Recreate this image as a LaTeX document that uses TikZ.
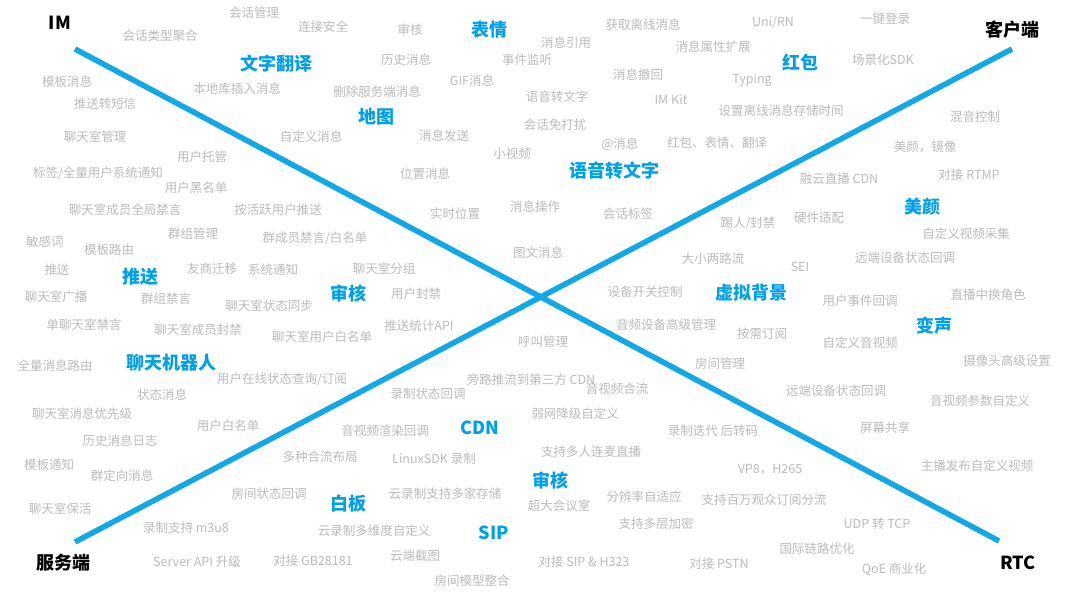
\documentclass[tikz,border=0pt]{standalone}
\usepackage{fontspec}
\setmainfont{Noto Sans CJK SC}
\definecolor{txtgray}{RGB}{188,188,188}
\definecolor{accblue}{RGB}{0,160,233}
\definecolor{lineblue}{RGB}{16,168,230}
\tikzset{
  g/.style={text=txtgray,font=\fontsize{12.5}{14}\selectfont,inner sep=0pt},
  b/.style={text=accblue,font=\fontsize{18}{20}\selectfont\bfseries,inner sep=0pt},
  k/.style={text=black,font=\fontsize{18}{20}\selectfont\bfseries,inner sep=0pt},
  bigline/.style={draw=lineblue,line width=5.5pt}
}
\begin{document}
\begin{tikzpicture}[x=1pt,y=-1pt]
\useasboundingbox[fill=white] (0,0) rectangle (1080,596);
% axes
\coordinate (imEnd) at (75,49);
\coordinate (rtcEnd) at (999,541);
\coordinate (svEnd) at (75,542);
\coordinate (clEnd) at (1012,49);
\draw[bigline] (imEnd) -- (rtcEnd);
\draw[bigline] (svEnd) -- (clEnd);
% corner labels
\node[k] (lIM) at (60,23) {IM};
\node[k] (lCL) at (1012,30) {客户端};
\node[k] (lSV) at (63,563) {服务端};
\node[k] (lRTC) at (1018,563) {RTC};
% blue labels
\node[b] (b1) at (489,30) {表情};
\node[b] (b2) at (276,64) {文字翻译};
\node[b] (b3) at (800,62) {红包};
\node[b] (b4) at (376,117) {地图};
\node[b] (b5) at (614,171) {语音转文字};
\node[b] (b6) at (922,207) {美颜};
\node[b] (b7) at (140,277) {推送};
\node[b] (b8) at (348,294) {审核};
\node[b] (b9) at (751,293) {虚拟背景};
\node[b] (b10) at (934,326) {变声};
\node[b] (b11) at (171,363) {聊天机器人};
\node[b] (b12) at (480,428) {CDN};
\node[b] (b13) at (550,481) {审核};
\node[b] (b14) at (348,504) {白板};
\node[b] (b15) at (494,533) {SIP};
% gray labels
\node[g] (g1) at (254,13) {会话管理};
\node[g] (g2) at (160,36) {会话类型聚合};
\node[g] (g3) at (323,27) {连接安全};
\node[g] (g4) at (410,30) {审核};
\node[g] (g5) at (643,25) {获取离线消息};
\node[g] (g6) at (773,23) {Uni/RN};
\node[g] (g7) at (885,19) {一键登录};
\node[g] (g8) at (566,43) {消息引用};
\node[g] (g9) at (713,47) {消息属性扩展};
\node[g] (g10) at (406,60) {历史消息};
\node[g] (g11) at (527,60) {事件监听};
\node[g] (g12) at (883,60) {场景化SDK};
\node[g] (g13) at (67,82) {模板消息};
\node[g] (g14) at (237,89) {本地库插入消息};
\node[g] (g15) at (472,81) {GIF消息};
\node[g] (g16) at (638,75) {消息撤回};
\node[g] (g17) at (752,80) {Typing};
\node[g] (g18) at (377,92) {删除服务端消息};
\node[g] (g19) at (557,97) {语音转文字};
\node[g] (g20) at (671,100) {IM Kit};
\node[g] (g21) at (105,104) {推送转短信};
\node[g] (g22) at (781,111) {设置离线消息存储时间};
\node[g] (g23) at (975,117) {混音控制};
\node[g] (g24) at (555,125) {会话免打扰};
\node[g] (g25) at (95,137) {聊天室管理};
\node[g] (g26) at (311,137) {自定义消息};
\node[g] (g27) at (444,136) {消息发送};
\node[g] (g28) at (620,144) {@消息};
\node[g] (g29) at (717,143) {红包、表情、翻译};
\node[g] (g30) at (925,147) {美颜，镜像};
\node[g] (g31) at (202,157) {用户托管};
\node[g] (g32) at (512,154) {小视频};
\node[g] (g33) at (98,173) {标签/全量用户系统通知};
\node[g] (g34) at (425,174) {位置消息};
\node[g] (g35) at (839,179) {融云直播 CDN};
\node[g] (g36) at (969,175) {对接 RTMP};
\node[g] (g37) at (196,188) {用户黑名单};
\node[g] (g38) at (125,210) {聊天室成员全局禁言};
\node[g] (g39) at (278,210) {按活跃用户推送};
\node[g] (g40) at (455,214) {实时位置};
\node[g] (g41) at (535,207) {消息操作};
\node[g] (g42) at (628,214) {会话标签};
\node[g] (g43) at (748,223) {踢人/封禁};
\node[g] (g44) at (819,218) {硬件适配};
\node[g] (g45) at (45,242) {敏感词};
\node[g] (g46) at (193,234) {群组管理};
\node[g] (g47) at (315,238) {群成员禁言/白名单};
\node[g] (g48) at (109,250) {模板路由};
\node[g] (g49) at (966,234) {自定义视频采集};
\node[g] (g50) at (538,253) {图文消息};
\node[g] (g51) at (713,259) {大小两路流};
\node[g] (g52) at (800,267) {SEI};
\node[g] (g53) at (905,258) {远端设备状态回调};
\node[g] (g54) at (57,270) {推送};
\node[g] (g55) at (212,269) {友商迁移};
\node[g] (g56) at (273,270) {系统通知};
\node[g] (g57) at (384,269) {聊天室分组};
\node[g] (g58) at (56,297) {聊天室广播};
\node[g] (g59) at (166,299) {群组禁言};
\node[g] (g60) at (645,292) {设备开关控制};
\node[g] (g61) at (416,294) {用户封禁};
\node[g] (g62) at (988,295) {直播中换角色};
\node[g] (g63) at (860,301) {用户事件回调};
\node[g] (g64) at (269,306) {聊天室状态同步};
\node[g] (g65) at (84,325) {单聊天室禁言};
\node[g] (g66) at (198,330) {聊天室成员封禁};
\node[g] (g67) at (419,326) {推送统计API};
\node[g] (g68) at (322,337) {聊天室用户白名单};
\node[g] (g69) at (666,325) {音频设备高级管理};
\node[g] (g70) at (762,334) {按需订阅};
\node[g] (g71) at (543,342) {呼叫管理};
\node[g] (g72) at (860,343) {自定义音视频};
\node[g] (g73) at (55,366) {全量消息路由};
\node[g] (g74) at (720,364) {房间管理};
\node[g] (g75) at (1007,361) {摄像头高级设置};
\node[g] (g76) at (282,379) {用户在线状态查询/订阅};
\node[g] (g77) at (531,380) {旁路推流到第三方 CDN};
\node[g] (g78) at (617,389) {音视频合流};
\node[g] (g79) at (162,395) {状态消息};
\node[g] (g80) at (428,394) {录制状态回调};
\node[g] (g81) at (836,391) {远端设备状态回调};
\node[g] (g82) at (980,401) {音视频参数自定义};
\node[g] (g83) at (82,414) {聊天室消息优先级};
\node[g] (g84) at (575,414) {弱网降级自定义};
\node[g] (g85) at (120,441) {历史消息日志};
\node[g] (g86) at (228,426) {用户白名单};
\node[g] (g87) at (385,431) {音视频渲染回调};
\node[g] (g88) at (713,431) {录制迭代 后转码};
\node[g] (g89) at (885,428) {屏幕共享};
\node[g] (g90) at (591,452) {支持多人连麦直播};
\node[g] (g91) at (49,465) {模板通知};
\node[g] (g92) at (122,476) {群定向消息};
\node[g] (g93) at (320,457) {多种合流布局};
\node[g] (g94) at (434,459) {LinuxSDK 录制};
\node[g] (g95) at (770,470) {VP8，H265};
\node[g] (g96) at (977,466) {主播发布自定义视频};
\node[g] (g97) at (269,494) {房间状态回调};
\node[g] (g98) at (445,494) {云录制支持多家存储};
\node[g] (g99) at (559,506) {超大会议室};
\node[g] (g100) at (644,497) {分辨率自适应};
\node[g] (g101) at (764,500) {支持百万观众订阅分流};
\node[g] (g102) at (60,509) {聊天室保活};
\node[g] (g103) at (186,528) {录制支持 m3u8};
\node[g] (g104) at (374,531) {云录制多维度自定义};
\node[g] (g105) at (656,524) {支持多层加密};
\node[g] (g106) at (877,524) {UDP 转 TCP};
\node[g] (g107) at (197,562) {Server API 升级};
\node[g] (g108) at (313,561) {对接 GB28181};
\node[g] (g109) at (415,556) {云端截图};
\node[g] (g110) at (584,562) {对接 SIP \& H323};
\node[g] (g111) at (719,564) {对接 PSTN};
\node[g] (g112) at (817,549) {国际链路优化};
\node[g] (g113) at (894,569) {QoE 商业化};
\node[g] (g114) at (472,581) {房间模型整合};
\end{tikzpicture}
\end{document}
